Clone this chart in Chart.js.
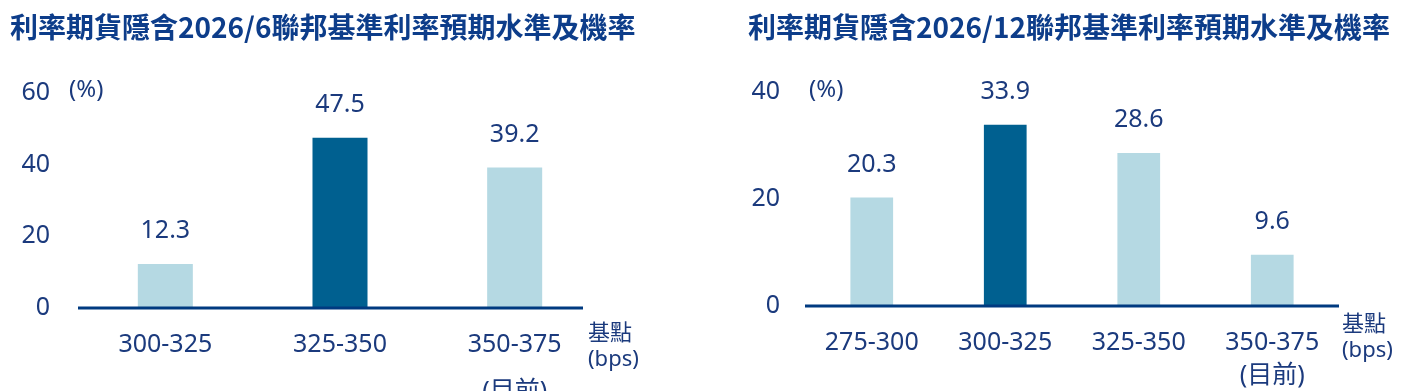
<!DOCTYPE html>
<html>
<head>
<meta charset="utf-8">
<script src="https://cdn.jsdelivr.net/npm/chart.js@4"></script>
<style>
  body { margin: 0; width: 1407px; height: 391px; overflow: hidden; background: #fff;
         font-family: 'Noto Sans', 'Noto Sans CJK TC', sans-serif; color: #1b3a7d; }
  .box { position: absolute; top: 0; height: 391px; }
  .title { position: absolute; top: 6px; font-size: 28px; font-weight: bold; color: #0d3d8a;
           font-family: 'Noto Sans CJK TC', sans-serif; white-space: nowrap; }
  .note { position: absolute; font-size: 22px; line-height: 26px; white-space: nowrap; }
  .pct { font-size: 24px; }
</style>
</head>
<body>
<div class="box" style="left:0;width:700px"><canvas id="c1"></canvas></div>
<div class="box" style="left:700px;width:707px"><canvas id="c2"></canvas></div>

<div class="title" style="left:10px">利率期貨隱含2026/6聯邦基準利率預期水準及機率</div>
<div class="title" style="left:748px">利率期貨隱含2026/12聯邦基準利率預期水準及機率</div>

<div class="note pct" style="left:69px;top:75px">(%)</div>
<div class="note" style="left:588px;top:318px">基點<br>(bps)</div>
<div class="note pct" style="left:809px;top:75px">(%)</div>
<div class="note" style="left:1342px;top:309px">基點<br>(bps)</div>

<script>
// data
const labelsJun = ['300-325', '325-350', ['350-375', '(目前)']];
const probJun = [12.3, 47.5, 39.2];
const labelsDec = ['275-300', '300-325', '325-350', ['350-375', '(目前)']];
const probDec = [20.3, 33.9, 28.6, 9.6];
const yTicksJun = {max: 60, step: 20};
const yTicksDec = {max: 40, step: 20};

const DARK = '#006090';
const LIGHT = '#b5d9e3';
const NAVY = '#1b3a7d';

Chart.defaults.font.family = "'Noto Sans', 'Noto Sans CJK TC', sans-serif";
Chart.defaults.color = NAVY;

// value labels above bars + baseline
const barText = {
  id: 'barText',
  afterDatasetsDraw(chart) {
    const ctx = chart.ctx;
    const meta = chart.getDatasetMeta(0);
    const vals = chart.data.datasets[0].data;
    ctx.save();
    ctx.font = "25px 'Noto Sans'";
    ctx.fillStyle = NAVY;
    ctx.textAlign = 'center';
    ctx.textBaseline = 'middle';
    meta.data.forEach((bar, i) => {
      ctx.fillText(vals[i].toFixed(1), bar.x, bar.y - 33);
    });
    // base line
    const o = chart.options.plugins.barText;
    const y0 = chart.scales.y.getPixelForValue(0);
    ctx.strokeStyle = '#003a80';
    ctx.lineWidth = 3;
    ctx.beginPath();
    ctx.moveTo(chart.chartArea.left, y0);
    ctx.lineTo(chart.chartArea.right - o.trim, y0);
    ctx.stroke();
    ctx.restore();
  }
};

function makeChart(id, labels, vals, ticks, darkIdx, o) {
  const colors = vals.map((v, i) => i === darkIdx ? DARK : LIGHT);
  return new Chart(document.getElementById(id), {
    type: 'bar',
    data: {
      labels: labels,
      datasets: [{
        data: vals,
        backgroundColor: colors,
        categoryPercentage: 1,
        barPercentage: o.barPct
      }]
    },
    options: {
      responsive: true,
      maintainAspectRatio: false,
      animation: false,
      layout: { padding: { top: o.top, right: o.right, bottom: 0, left: 0 } },
      plugins: {
        legend: { display: false },
        tooltip: { enabled: false },
        barText: { trim: o.trim }
      },
      scales: {
        x: {
          grid: { display: false },
          border: { display: false },
          ticks: { font: { size: 25, lineHeight: o.lh }, color: NAVY, padding: o.xpad, maxRotation: 0 },
          afterFit(s) { s.height = o.xh; }
        },
        y: {
          min: 0,
          max: ticks.max,
          grid: { display: false },
          border: { display: false },
          ticks: { stepSize: ticks.step, font: { size: 25 }, color: NAVY, padding: o.ypad },
          afterFit(s) { s.width = o.yw; }
        }
      }
    },
    plugins: [barText]
  });
}

makeChart('c1', labelsJun, probJun, yTicksJun, 1,
  { top: 93, right: 98, xh: 83, yw: 78, ypad: 20, xpad: 6, lh: 1.85, barPct: 0.315, trim: 19 });
makeChart('c2', labelsDec, probDec, yTicksDec, 1,
  { top: 92, right: 68, xh: 85, yw: 105, ypad: 17, xpad: 13, lh: 1.3, barPct: 0.32, trim: 0 });
</script>
</body>
</html>
